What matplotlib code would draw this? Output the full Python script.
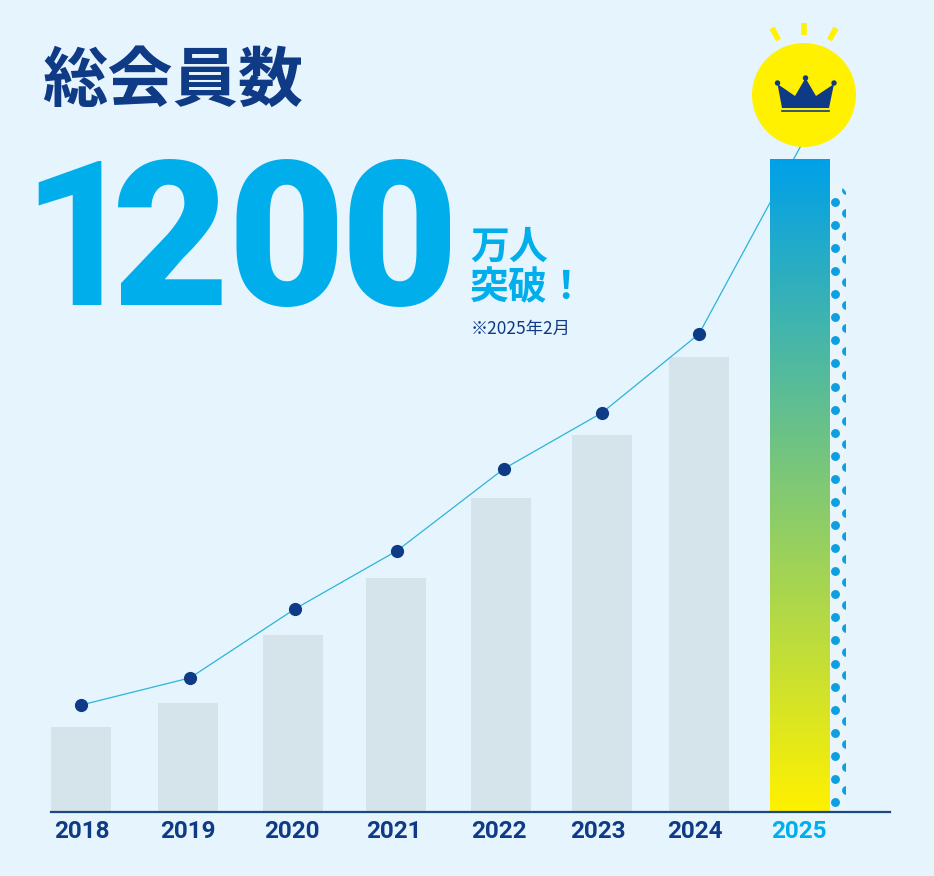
import matplotlib
matplotlib.use('Agg')
import matplotlib.pyplot as plt
from matplotlib.colors import LinearSegmentedColormap
from matplotlib.patches import Circle, Polygon
import numpy as np

years = ['2018', '2019', '2020', '2021', '2022', '2023', '2024', '2025']
members = [155, 199, 324, 429, 576, 692, 836, 1200]
line_values = [195, 245, 372, 479, 630, 733, 878, 1235]

bar_x = [81, 188, 293, 396, 501, 602, 699, 800]
line_x = [81, 190, 295, 397, 504, 602, 699, 804]
label_x = [82, 188, 292, 394, 499, 598, 695, 799]

total_digits = '1200'
digit_x = [79, 171, 286.5, 399.5]
digit_weight = ['bold', 'black', 'black', 'black']

BG = '#E6F4FE'
NAVY = '#0F3A85'
BLUE = '#00AEEC'
DOT = '#0E9FE0'
SUN = '#FFF100'
JP = ['Noto Sans CJK JP', 'DejaVu Sans']

W, H = 934, 876
BASE = 811
UNIT = 652 / 1200  # px per 10k members

fig = plt.figure(figsize=(W / 100, H / 100), dpi=100, facecolor=BG)

# chart axes: x in pixels, y in members
ax = fig.add_axes([0, (H - BASE) / H, 1, BASE / H])
ax.axis('off')

ax.bar(bar_x[:-1], members[:-1], width=60, color='#D5E3EA', zorder=1)

# growth line, runs behind the last bar up into the sun
ax.plot(line_x, line_values, color='#2BB5D8', lw=0.9, zorder=3)
ax.plot(line_x[:-1], line_values[:-1], 'o', ms=9.5, mec='none', color=NAVY, zorder=4)

# gradient bar
cmap = LinearSegmentedColormap.from_list('bar', [SUN, '#00A0E9'])
ax.imshow(np.linspace(0, 1, 256).reshape(-1, 1), cmap=cmap, origin='lower', aspect='auto',
          extent=(770, 830, 0, members[-1]), zorder=5)
ax.set_xlim(0, W)
ax.set_ylim(0, BASE / UNIT)

# overlay in pixel coordinates for title, baseline, sun
ov = fig.add_axes([0, 0, 1, 1], facecolor='none')
ov.set_xlim(0, W)
ov.set_ylim(H, 0)
ov.axis('off')

# dotted band next to the last bar
band = Polygon([(830, 811), (846, 811), (846, 192), (838, 182), (830, 182)], closed=True,
               color='#E9F5FA', lw=0, zorder=1)
ov.add_patch(band)
for i in range(27):
    ov.plot(835, 802 - 23.08 * i, 'o', ms=6.4, mec='none', color=DOT, zorder=2)
for i in range(27):
    p, = ov.plot(845.5, 790 - 23.08 * i, 'o', ms=6.4, mec='none', color=DOT, zorder=2)
    p.set_clip_path(band)

ov.plot([51, 890], [811.5, 811.5], color='#1C4A80', lw=1.6, zorder=6)

for x, lab in zip(label_x, years):
    ov.text(x, 831, lab, ha='center', va='center', fontsize=17.5, fontweight='bold',
            family='Roboto', color=BLUE if lab == '2025' else NAVY, zorder=7)

ov.text(173, 81, '総会員数', ha='center', va='center', fontsize=47, fontweight='bold',
        family=JP, color=NAVY)
# digits placed one by one, the original is set much tighter than Roboto
for ch, x, wt in zip(total_digits, digit_x, digit_weight):
    ov.text(x, 305, ch, ha='center', va='baseline', fontsize=146, fontweight=wt,
            family='Roboto', color=BLUE)
ov.text(470, 268, '万人\n突破！', ha='left', va='center', fontsize=28, fontweight='bold',
        family=JP, color=BLUE, linespacing=1.05)
ov.text(471, 329, '※2025年2月', ha='left', va='center', fontsize=12.5,
        family=JP, color=NAVY)

# sun with crown
ov.add_patch(Circle((804, 95), 52, color=SUN, lw=0, zorder=8))
for (x0, y0, x1, y1) in [(772, 28, 778.5, 40), (804, 23, 804, 35), (836, 28, 829.5, 40)]:
    ov.plot([x0, x1], [y0, y1], color=SUN, lw=4, solid_capstyle='butt', zorder=8)
ov.add_patch(Polygon([(777.5, 84), (782, 108), (829, 108), (834, 84), (816, 96), (805.5, 78),
                      (795, 96)], closed=True, color=NAVY, lw=0, zorder=9))
for cx, cy in [(777.5, 83), (805.5, 78), (834, 83)]:
    ov.add_patch(Circle((cx, cy), 2.7, color=NAVY, lw=0, zorder=9))
ov.plot([782, 829], [110.5, 110.5], color=NAVY, lw=1.2, zorder=9)

fig.savefig('out.png', dpi=100, facecolor=BG)
